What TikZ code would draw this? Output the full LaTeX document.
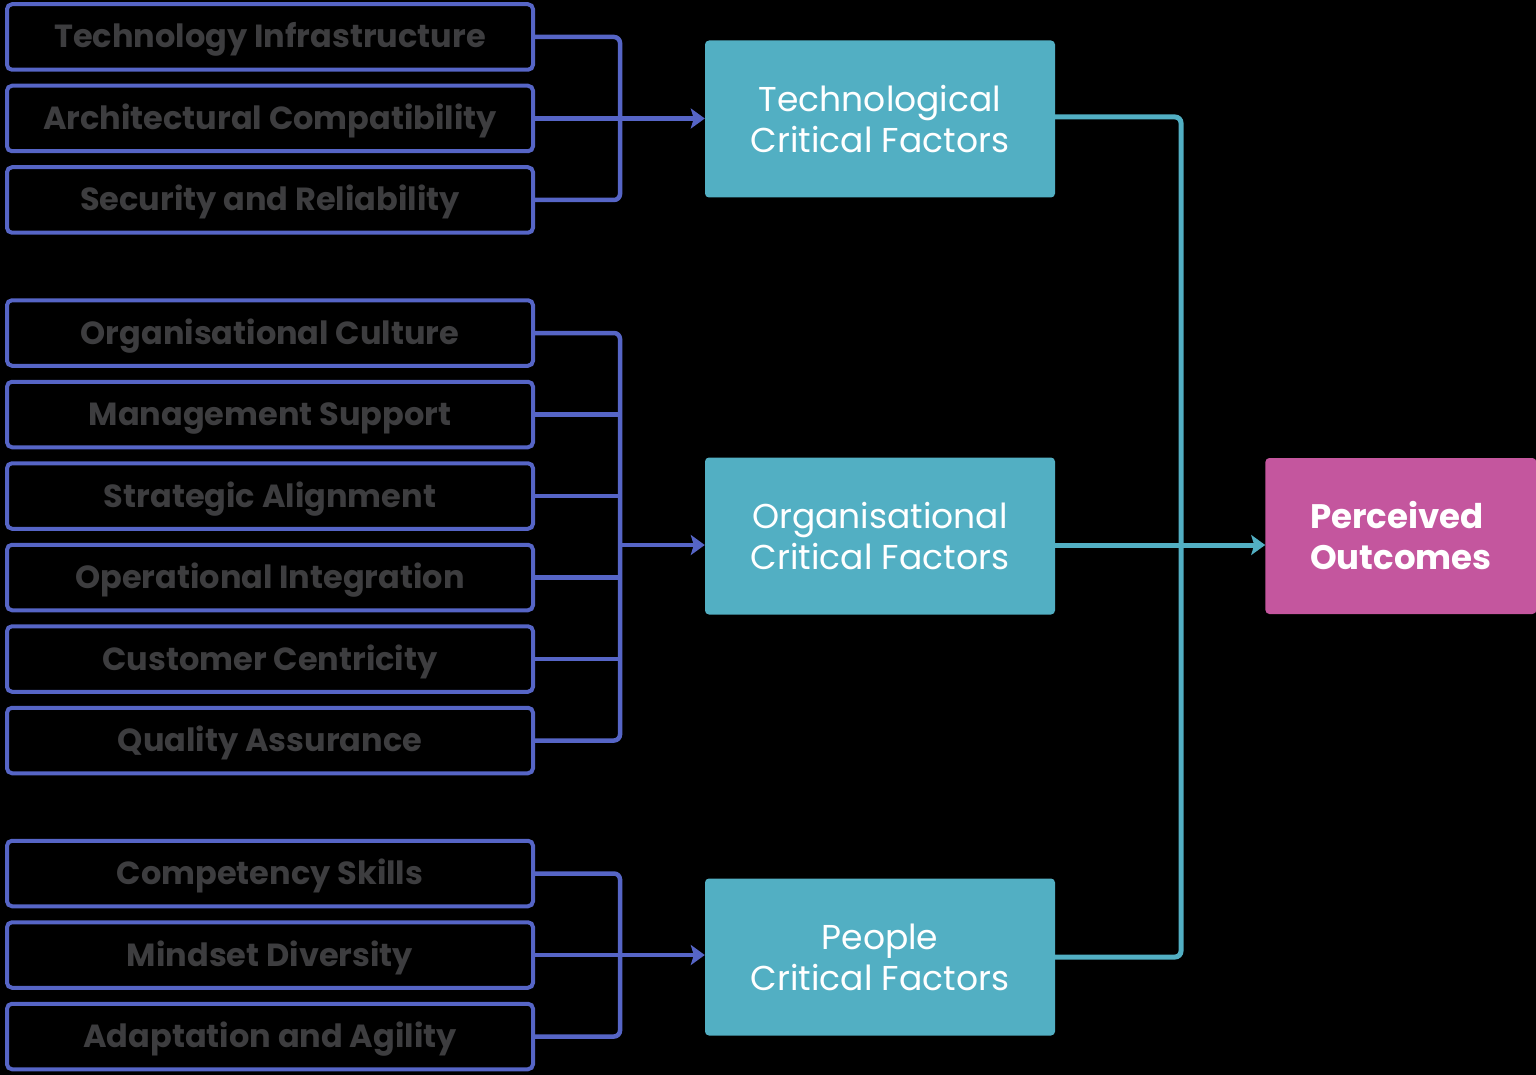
\documentclass[tikz,border=0pt]{standalone}
\usepackage{fontspec}
\setmainfont{Poppins}
\usetikzlibrary{positioning,arrows.meta}
\definecolor{factorblue}{RGB}{86,101,198}
\definecolor{factorgray}{RGB}{61,61,63}
\definecolor{groupteal}{RGB}{82,175,195}
\definecolor{outcomepink}{RGB}{196,86,158}

\begin{document}
\begin{tikzpicture}[x=1pt,y=-1pt,
    factor/.style={draw=factorblue,line width=4pt,rounded corners=5pt,minimum width=526pt,minimum height=65.5pt,inner sep=0pt,text height=24pt,text depth=2pt,text=factorgray,font=\fontsize{32}{36}\selectfont\bfseries},
    group/.style={fill=groupteal,rounded corners=4pt,minimum width=350pt,minimum height=157pt,inner sep=0pt,align=center,text=white,font=\fontsize{34.5}{41}\selectfont},
    outcome/.style={fill=outcomepink,rounded corners=4pt,minimum width=271pt,minimum height=156pt,inner sep=0pt,align=left,text=white,font=\fontsize{34}{41}\selectfont\bfseries},
    bracket/.style={draw=factorblue,line width=4.5pt,rounded corners=6pt},
    link/.style={draw=groupteal,line width=5pt,rounded corners=6pt},
    >={Stealth[length=14pt,width=20pt,inset=3pt]}]
      % Background
      \fill[black] (0,0) rectangle (1536,1075);
      \useasboundingbox (0,0) rectangle (1536,1075);

      % Technological factors
      \node[factor] (t1) at (270,37) {Technology Infrastructure};
      \node[factor,below=12pt of t1] (t2) {Architectural Compatibility};
      \node[factor,below=12pt of t2] (t3) {Security and Reliability};

      % Organisational factors
      \node[factor,below=63.5pt of t3] (o1) {Organisational Culture};
      \node[factor,below=12pt of o1] (o2) {Management Support};
      \node[factor,below=12pt of o2] (o3) {Strategic Alignment};
      \node[factor,below=12pt of o3] (o4) {Operational Integration};
      \node[factor,below=12pt of o4] (o5) {Customer Centricity};
      \node[factor,below=12pt of o5] (o6) {Quality Assurance};

      % People factors
      \node[factor,below=63.5pt of o6] (p1) {Competency Skills};
      \node[factor,below=12pt of p1] (p2) {Mindset Diversity};
      \node[factor,below=12pt of p2] (p3) {Adaptation and Agility};

      % Critical factor groups
      \node[group] (tech) at (880,119) {Technological\\Critical Factors};
      \node[group] (orga) at (880,536) {Organisational\\Critical Factors};
      \node[group] (peop) at (880,957) {People\\Critical Factors};
      \node[outcome,right=210pt of orga] (outc) {Perceived\\Outcomes};

      % Brackets
      \coordinate (tj) at ([xshift=85pt]t2.east);
      \coordinate (oj) at ([yshift=-9pt]orga.west -| tj);
      \coordinate (pj) at ([xshift=85pt]p2.east);
      \draw[bracket] (t1.east) -| (tj) |- (t3.east);
      \draw[bracket] (t2.east) -- (tj);
      \draw[bracket,rounded corners=0pt,->] (tj) -- (tj -| tech.west);
      \draw[bracket] (o1.east) -| (oj) |- (o6.east);
      \draw[bracket] (o2.east) -- (o2.east -| oj);
      \draw[bracket] (o3.east) -- (o3.east -| oj);
      \draw[bracket] (o4.east) -- (o4.east -| oj);
      \draw[bracket] (o5.east) -- (o5.east -| oj);
      \draw[bracket,rounded corners=0pt,->] (oj) -- (oj -| orga.west);
      \draw[bracket] (p1.east) -| (pj) |- (p3.east);
      \draw[bracket] (p2.east) -- (pj);
      \draw[bracket,rounded corners=0pt,->] (pj) -- (pj -| peop.west);

      % Links to outcome
      \draw[link] ([yshift=2pt]tech.east) -| (1181,540) |- (peop.east);
      \draw[link,rounded corners=0pt,->] ([yshift=-9pt]orga.east) -- ([yshift=-9pt]outc.west);
\end{tikzpicture}
\end{document}
